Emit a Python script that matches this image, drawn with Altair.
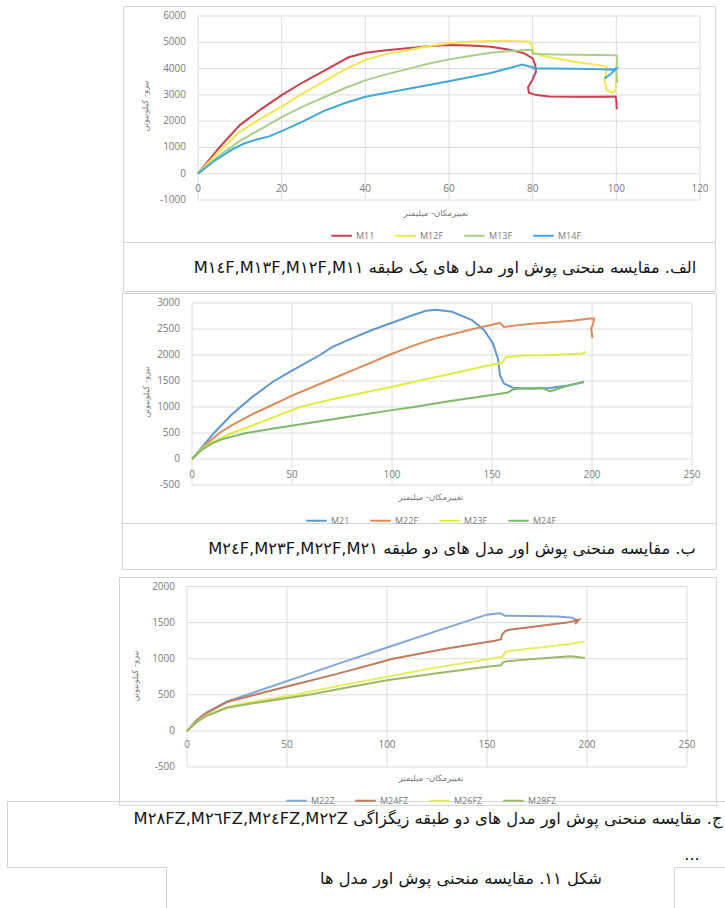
import altair as alt
import pandas as pd

# ---------------- panel A: one-storey models ----------------
A_SERIES = ["M11", "M12F", "M13F", "M14F"]
A_COLORS = ["#c9404f", "#f3e54e", "#a6d08a", "#41a8d8"]
A_XTICKS = [0, 20, 40, 60, 80, 100, 120]
A_YTICKS = [-1000, 0, 1000, 2000, 3000, 4000, 5000, 6000]

M11_X = [0, 5, 10, 15, 20, 25, 30, 36, 40, 45, 50, 55, 60, 65, 70, 75, 78, 80, 80.6, 80.8, 79.9, 78.9, 79.1, 80.8, 84, 90, 95, 99.8, 100, 100.1]
M11_Y = [0, 980, 1850, 2450, 2990, 3470, 3900, 4430, 4600, 4700, 4770, 4850, 4900, 4880, 4830, 4700, 4580, 4390, 4140, 3880, 3560, 3290, 3080, 2990, 2940, 2930, 2930, 2940, 2800, 2450]

M12F_X = [0, 5, 10, 15, 20, 25, 30, 35, 40, 45, 50, 55, 60, 65, 70, 75, 79, 79.8, 80.3, 82, 85, 90, 95, 97, 97.8, 97.2, 97.6, 99, 99.8, 100.2]
M12F_Y = [0, 850, 1600, 2100, 2550, 3050, 3500, 3950, 4330, 4550, 4700, 4850, 4960, 5020, 5050, 5050, 5030, 4900, 4600, 4500, 4400, 4260, 4150, 4100, 4050, 3600, 3200, 3080, 3150, 4250]

M13F_X = [0, 5, 10, 15, 20, 25, 30, 35, 40, 45, 50, 55, 60, 65, 70, 75, 79.8, 80, 85, 90, 95, 99.7, 100.2, 100, 100.2]
M13F_Y = [0, 680, 1250, 1700, 2150, 2550, 2900, 3250, 3550, 3780, 3980, 4180, 4350, 4480, 4600, 4670, 4720, 4560, 4540, 4530, 4520, 4510, 4480, 3900, 3450]

M14F_X = [0, 4, 8.5, 11, 14, 17, 20, 25, 30, 35, 40, 50, 60, 70, 77.5, 79, 80, 80.3, 85, 90, 97, 99, 100, 98.6, 97.2]
M14F_Y = [0, 500, 950, 1150, 1300, 1420, 1620, 1980, 2380, 2680, 2930, 3220, 3520, 3830, 4150, 4090, 4050, 4000, 4000, 3990, 3970, 3960, 4000, 3780, 3620]

# ---------------- panel B: two-storey models ----------------
B_SERIES = ["M21", "M22F", "M23F", "M24F"]
B_COLORS = ["#5e98cf", "#e08a5a", "#e2ec3e", "#7cba68"]
B_XTICKS = [0, 50, 100, 150, 200, 250]
B_YTICKS = [-500, 0, 500, 1000, 1500, 2000, 2500, 3000]

M21_X = [0, 5, 11, 20, 30, 41, 50, 64, 70, 80, 90, 100, 110, 117, 122, 130, 140, 146, 150.5, 153, 154, 156, 160.5, 170, 179, 188, 196]
M21_Y = [0, 230, 500, 860, 1190, 1500, 1700, 2000, 2150, 2320, 2480, 2620, 2760, 2850, 2870, 2830, 2670, 2480, 2220, 1930, 1610, 1450, 1370, 1350, 1365, 1415, 1480]

M22F_X = [0, 7, 13.7, 20, 30, 38, 50, 67.5, 80, 98.5, 110, 120, 140.5, 150, 154, 156, 160, 170, 180, 190, 199, 201, 200.6, 199.6, 200.2]
M22F_Y = [0, 280, 500, 650, 860, 1000, 1220, 1500, 1700, 2000, 2170, 2300, 2500, 2580, 2620, 2540, 2560, 2600, 2630, 2660, 2700, 2700, 2600, 2500, 2330]

M23F_X = [0, 5, 10, 20, 30, 40, 54, 70, 85, 100, 113, 125, 148, 155, 156, 157, 165, 180, 195, 197]
M23F_Y = [0, 200, 320, 500, 640, 790, 1000, 1150, 1270, 1390, 1500, 1600, 1800, 1850, 1900, 1960, 1990, 2000, 2030, 2060]

M24F_X = [0, 5, 10, 15, 20, 27, 40, 60, 80, 100, 111, 130, 150, 158, 160, 163, 175, 179, 183, 190, 196]
M24F_Y = [0, 180, 300, 380, 430, 500, 580, 700, 820, 940, 1000, 1120, 1230, 1280, 1330, 1350, 1370, 1300, 1350, 1430, 1480]

# ---------------- panel C: two-storey zigzag models ----------------
C_SERIES = ["M22Z", "M24FZ", "M26FZ", "M28FZ"]
C_COLORS = ["#7fa6d6", "#c27a5c", "#e6ec5a", "#9ab86a"]
C_XTICKS = [0, 50, 100, 150, 200, 250]
C_YTICKS = [-500, 0, 500, 1000, 1500, 2000]

M22Z_X = [0, 5, 10, 20, 30, 50, 75, 100, 125, 150, 155, 157, 159, 170, 185, 192, 196]
M22Z_Y = [0, 150, 260, 410, 500, 690, 925, 1155, 1385, 1610, 1625, 1625, 1595, 1590, 1585, 1570, 1530]

M24FZ_X = [0, 5, 10, 20, 34, 50, 75, 103, 130, 154, 157, 157.5, 159, 161, 175, 190, 196, 194]
M24FZ_Y = [0, 150, 250, 400, 500, 615, 790, 1000, 1140, 1250, 1270, 1330, 1380, 1400, 1450, 1500, 1540, 1480]

M26FZ_X = [0, 5, 10, 20, 30, 54, 75, 100, 125, 152, 158, 159, 162, 175, 190, 199]
M26FZ_Y = [0, 130, 220, 330, 390, 500, 620, 750, 880, 1000, 1030, 1090, 1110, 1150, 1200, 1240]

M28FZ_X = [0, 5, 10, 20, 30, 61, 80, 100, 125, 150, 157, 158, 160, 170, 185, 192, 199]
M28FZ_Y = [0, 125, 210, 320, 370, 500, 600, 700, 800, 890, 910, 950, 965, 990, 1020, 1035, 1010]

# ---------------- texts ----------------
Y_TITLE = "نیرو- کیلونیوتن"
X_TITLE = "تغییرمکان- میلیمتر"
CAPTION_A = "M۱٤F,M۱۳F,M۱۲F,M۱۱ الف. مقایسه منحنی پوش اور مدل های یک طبقه"
CAPTION_B = "M۲٤F,M۲۳F,M۲۲F,M۲۱ ب. مقایسه منحنی پوش اور مدل های دو طبقه"
CAPTION_C = "M۲٨FZ,M۲٦FZ,M۲٤FZ,M۲۲Z ج. مقایسه منحنی پوش اور مدل های دو طبقه زیگزاگی"
FIGURE_CAPTION = "شکل ۱۱. مقایسه منحنی پوش اور مدل ها"

# ---------------- page layout (pixels) ----------------
W, H = 725, 908
GRID = "#dcdcdc"
FRAME = "#d4d4d4"
TICK_FONT = "Open Sans"
TEXT_FONT = "DejaVu Sans"

PANELS = [
    dict(names=A_SERIES, colors=A_COLORS, xs=[M11_X, M12F_X, M13F_X, M14F_X],
         ys=[M11_Y, M12F_Y, M13F_Y, M14F_Y], xticks=A_XTICKS, yticks=A_YTICKS,
         xpix=[198, 700], ypix=[200, 16], legend=(330, 224), xlab_dy=15),
    dict(names=B_SERIES, colors=B_COLORS, xs=[M21_X, M22F_X, M23F_X, M24F_X],
         ys=[M21_Y, M22F_Y, M23F_Y, M24F_Y], xticks=B_XTICKS, yticks=B_YTICKS,
         xpix=[192, 692], ypix=[485, 303], legend=(305, 509), xlab_dy=16),
    dict(names=C_SERIES, colors=C_COLORS, xs=[M22Z_X, M24FZ_X, M26FZ_X, M28FZ_X],
         ys=[M22Z_Y, M24FZ_Y, M26FZ_Y, M28FZ_Y], xticks=C_XTICKS, yticks=C_YTICKS,
         xpix=[187, 687], ypix=[767, 586.5], legend=(285, 789), xlab_dy=14),
]

FRAME_RECTS = [(123, 6, 715, 242), (123, 242, 715, 291),
               (122, 293, 716, 523), (122, 523, 716, 569),
               (119, 577, 716, 805)]
FRAME_LINES = [(7, 801, 725, 801), (7, 801, 7, 867), (7, 867, 166, 867),
               (674, 867, 725, 867), (166, 867, 166, 908), (674, 867, 674, 908)]

CAPTIONS = [(CAPTION_A, 445, 268), (CAPTION_B, 452, 549), (CAPTION_C, 428, 819),
            (FIGURE_CAPTION, 461, 879), ("...", 692, 855)]
X_TITLES = [(436, 213), (431, 497), (431, 778)]
Y_TITLES = [(145, 106), (146, 392), (135, 676)]


def panel(p):
    rows = []
    for name, xv, yv in zip(p["names"], p["xs"], p["ys"]):
        for i, (a, b) in enumerate(zip(xv, yv)):
            rows.append({"series": name, "x": a, "y": b, "i": i})
    df = pd.DataFrame(rows)
    xt, yt = p["xticks"], p["yticks"]
    xs = alt.Scale(domain=[xt[0], xt[-1]], range=p["xpix"], nice=False, zero=False)
    ys = alt.Scale(domain=[yt[0], yt[-1]], range=p["ypix"], nice=False, zero=False)

    hgrid = pd.DataFrame({"v": yt, "a": xt[0], "b": xt[-1]})
    vgrid = pd.DataFrame({"v": xt, "a": yt[0], "b": yt[-1]})
    grid_h = alt.Chart(hgrid).mark_rule(color=GRID, strokeWidth=1).encode(
        y=alt.Y("v:Q", scale=ys, axis=None),
        x=alt.X("a:Q", scale=xs, axis=None), x2="b:Q")
    grid_v = alt.Chart(vgrid).mark_rule(color=GRID, strokeWidth=1).encode(
        x=alt.X("v:Q", scale=xs, axis=None),
        y=alt.Y("a:Q", scale=ys, axis=None), y2="b:Q")

    ylab_df = pd.DataFrame({"v": yt, "x0": xt[0], "t": [str(v) for v in yt]})
    ylab = alt.Chart(ylab_df).mark_text(
        align="right", baseline="middle", dx=-12, font=TICK_FONT, fontSize=10,
        color="#7a7a7a").encode(
        x=alt.X("x0:Q", scale=xs, axis=None), y=alt.Y("v:Q", scale=ys, axis=None),
        text="t:N")
    xlab_df = pd.DataFrame({"v": xt, "y0": 0, "t": [str(v) for v in xt]})
    xlab = alt.Chart(xlab_df).mark_text(
        align="center", baseline="middle", dy=p["xlab_dy"], font=TICK_FONT,
        fontSize=10, color="#7a7a7a").encode(
        x=alt.X("v:Q", scale=xs, axis=None), y=alt.Y("y0:Q", scale=ys, axis=None),
        text="t:N")

    lx, ly = p["legend"]
    lines = alt.Chart(df).mark_line(strokeWidth=2).encode(
        x=alt.X("x:Q", scale=xs, axis=None),
        y=alt.Y("y:Q", scale=ys, axis=None),
        color=alt.Color("series:N",
                        scale=alt.Scale(domain=p["names"], range=p["colors"]),
                        legend=alt.Legend(orient="none", legendX=lx, legendY=ly,
                                          direction="horizontal", columns=4,
                                          title=None, symbolType="stroke",
                                          symbolStrokeWidth=2, symbolSize=420,
                                          labelFont=TICK_FONT, labelFontSize=9,
                                          labelColor="#7a7a7a", labelOffset=3,
                                          columnPadding=16)),
        order=alt.Order("i:Q"))
    return alt.layer(grid_h, grid_v, ylab, xlab, lines)


segs = []
for x1, y1, x2, y2 in FRAME_RECTS:
    segs += [(x1, y1, x2, y1), (x2, y1, x2, y2), (x1, y2, x2, y2), (x1, y1, x1, y2)]
segs += FRAME_LINES
seg_df = pd.DataFrame(segs, columns=["x", "y", "x2", "y2"]) + 0.5
frame = alt.Chart(seg_df).mark_rule(color=FRAME, strokeWidth=1).encode(
    x=alt.X("x:Q", scale=None), y=alt.Y("y:Q", scale=None), x2="x2:Q", y2="y2:Q")

cap_df = pd.DataFrame(CAPTIONS, columns=["t", "x", "y"])
captions = alt.Chart(cap_df).mark_text(
    font=TEXT_FONT, fontSize=16.3, color="#151515", align="center",
    baseline="middle").encode(
    x=alt.X("x:Q", scale=None), y=alt.Y("y:Q", scale=None), text="t:N")

xt_df = pd.DataFrame([(X_TITLE, x, y) for x, y in X_TITLES], columns=["t", "x", "y"])
x_titles = alt.Chart(xt_df).mark_text(
    font=TEXT_FONT, fontSize=8.5, color="#7a7a7a", align="center",
    baseline="middle").encode(
    x=alt.X("x:Q", scale=None), y=alt.Y("y:Q", scale=None), text="t:N")

yt_df = pd.DataFrame([(Y_TITLE, x, y) for x, y in Y_TITLES], columns=["t", "x", "y"])
y_titles = alt.Chart(yt_df).mark_text(
    font=TEXT_FONT, fontSize=8.5, color="#7a7a7a", align="center",
    baseline="middle", angle=270).encode(
    x=alt.X("x:Q", scale=None), y=alt.Y("y:Q", scale=None), text="t:N")

chart = alt.layer(
    frame, captions, x_titles, y_titles,
    panel(PANELS[0]), panel(PANELS[1]), panel(PANELS[2]),
).resolve_scale(
    x="independent", y="independent", color="independent"
).properties(
    width=W, height=H, padding=0,
    autosize=alt.AutoSizeParams(type="none"),
    background="white",
).configure_view(stroke=None)

chart.save("out.html", embed_options={"renderer": "svg", "actions": False})
